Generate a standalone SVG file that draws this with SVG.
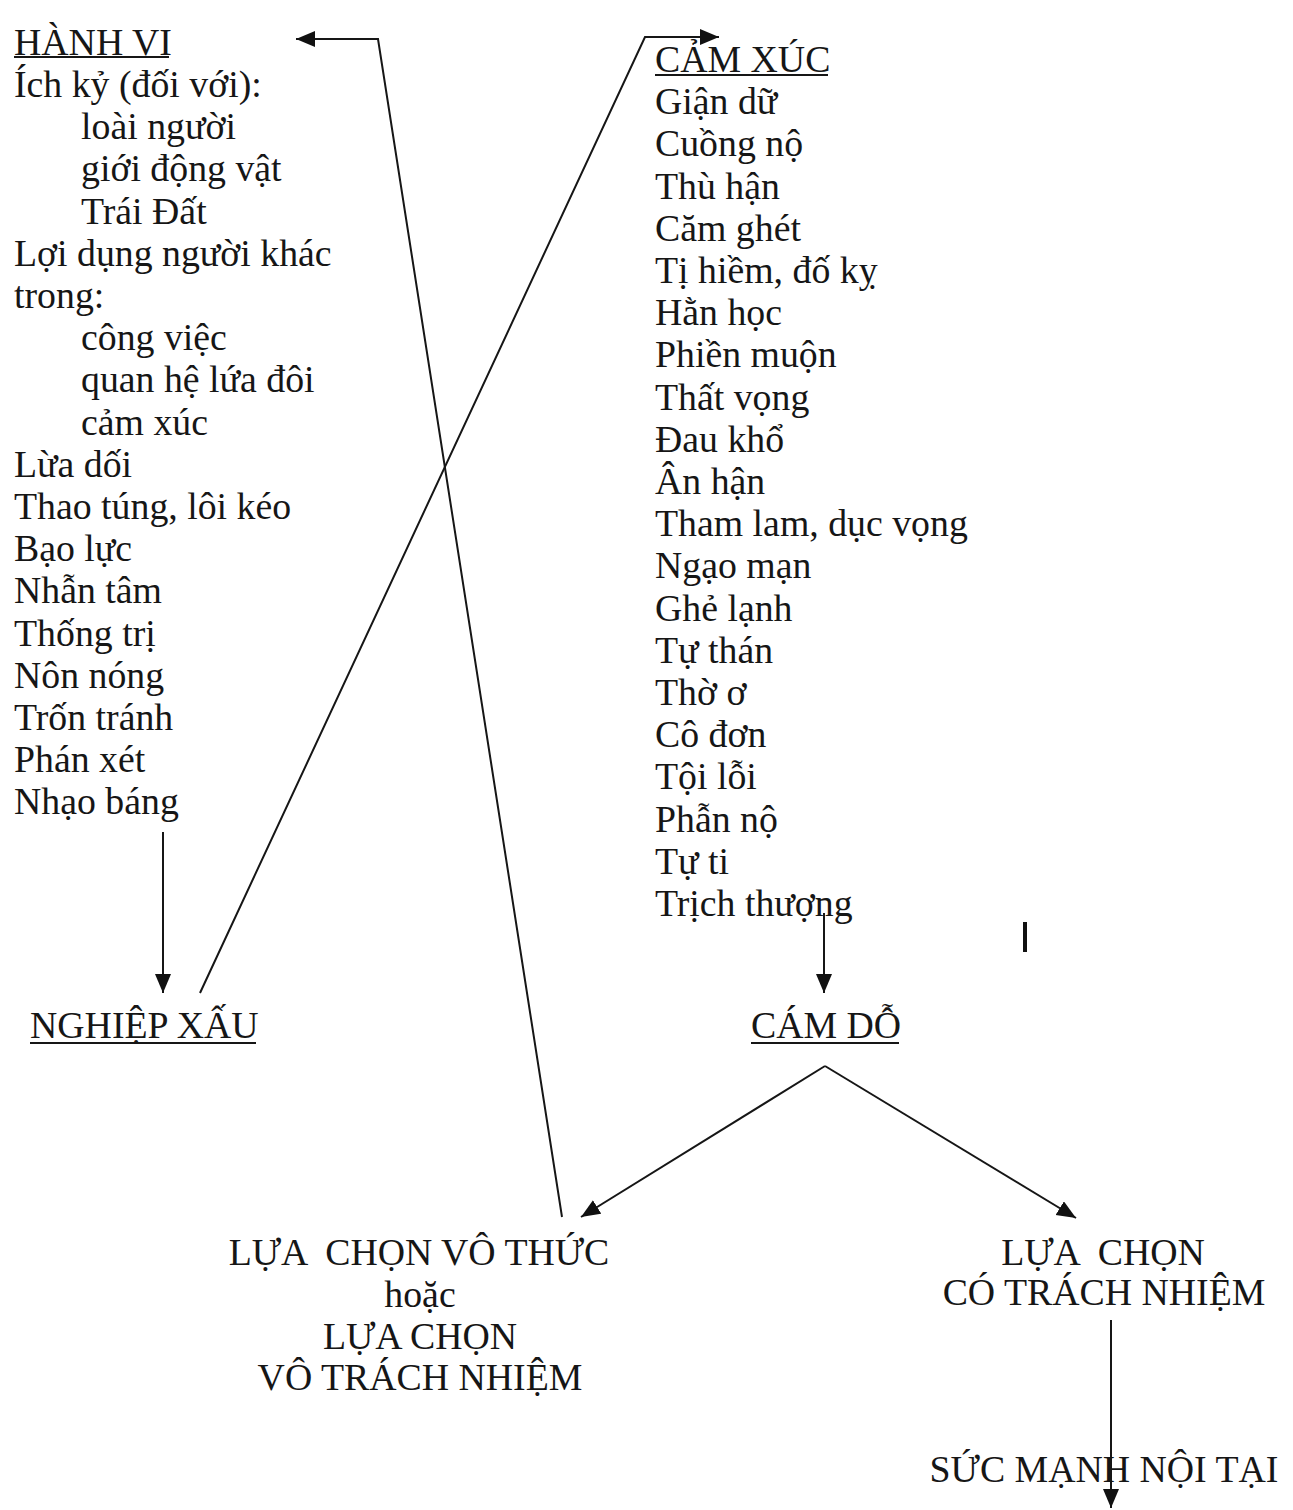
<svg xmlns="http://www.w3.org/2000/svg" width="1293" height="1510" viewBox="0 0 1293 1510">
<style>
  text { font-family: "Liberation Serif", "Times New Roman", serif; font-size: 37.8px; fill: #161616; white-space: pre; }
  .c { text-anchor: middle; }
  .ul { stroke: #161616; stroke-width: 2; }
  .conn { fill: none; stroke: #161616; stroke-width: 2; }
</style>
<defs>
  <marker id="ah" markerUnits="userSpaceOnUse" markerWidth="22" markerHeight="18" refX="19" refY="8" orient="auto">
    <path d="M0,0 L19,8 L0,16 z" fill="#111"/>
  </marker>
</defs>
<rect width="1293" height="1510" fill="#ffffff"/>

<g id="hanh-vi">
  <text x="14" y="55">HÀNH VI</text>
  <line class="ul" x1="14" y1="57" x2="169" y2="57"/>
  <text x="14" y="97">Ích kỷ (đối với):</text>
  <text x="81" y="139">loài người</text>
  <text x="81" y="181">giới động vật</text>
  <text x="81" y="224">Trái Đất</text>
  <text x="14" y="266">Lợi dụng người khác</text>
  <text x="14" y="308">trong:</text>
  <text x="81" y="350">công việc</text>
  <text x="81" y="392">quan hệ lứa đôi</text>
  <text x="81" y="435">cảm xúc</text>
  <text x="14" y="477">Lừa dối</text>
  <text x="14" y="519">Thao túng, lôi kéo</text>
  <text x="14" y="561">Bạo lực</text>
  <text x="14" y="603">Nhẫn tâm</text>
  <text x="14" y="646">Thống trị</text>
  <text x="14" y="688">Nôn nóng</text>
  <text x="14" y="730">Trốn tránh</text>
  <text x="14" y="772">Phán xét</text>
  <text x="14" y="814">Nhạo báng</text>
</g>

<g id="cam-xuc">
  <text x="655" y="72">CẢM XÚC</text>
  <line class="ul" x1="655" y1="75" x2="828" y2="75"/>
  <text x="655" y="114">Giận dữ</text>
  <text x="655" y="156">Cuồng nộ</text>
  <text x="655" y="199">Thù hận</text>
  <text x="655" y="241">Căm ghét</text>
  <text x="655" y="283">Tị hiềm, đố kỵ</text>
  <text x="655" y="325">Hằn học</text>
  <text x="655" y="367">Phiền muộn</text>
  <text x="655" y="410">Thất vọng</text>
  <text x="655" y="452">Đau khổ</text>
  <text x="655" y="494">Ân hận</text>
  <text x="655" y="536">Tham lam, dục vọng</text>
  <text x="655" y="578">Ngạo mạn</text>
  <text x="655" y="621">Ghẻ lạnh</text>
  <text x="655" y="663">Tự thán</text>
  <text x="655" y="705">Thờ ơ</text>
  <text x="655" y="747">Cô đơn</text>
  <text x="655" y="789">Tội lỗi</text>
  <text x="655" y="832">Phẫn nộ</text>
  <text x="655" y="874">Tự ti</text>
  <text x="655" y="916">Trịch thượng</text>
</g>

<g id="mark">
  <line x1="1025" y1="922" x2="1025" y2="952" stroke="#111" stroke-width="4"/>
</g>

<g id="nghiep-xau">
  <text x="30" y="1038">NGHIỆP XẤU</text>
  <line class="ul" x1="30" y1="1043" x2="256" y2="1043"/>
</g>

<g id="cam-do">
  <text x="751" y="1038">CÁM DỖ</text>
  <line class="ul" x1="751" y1="1043" x2="899" y2="1043"/>
</g>

<g id="lua-chon-vo-thuc">
  <text class="c" x="419" y="1265">LỰA  CHỌN VÔ THỨC</text>
  <text class="c" x="420" y="1307">hoặc</text>
  <text class="c" x="420" y="1349">LỰA CHỌN</text>
  <text class="c" x="420" y="1390">VÔ TRÁCH NHIỆM</text>
</g>

<g id="lua-chon-co-trach-nhiem">
  <text class="c" x="1103" y="1265">LỰA  CHỌN</text>
  <text class="c" x="1104" y="1305">CÓ TRÁCH NHIỆM</text>
</g>

<g id="suc-manh-noi-tai">
  <text class="c" x="1104" y="1482">SỨC MẠNH NỘI TẠI</text>
</g>

<g id="connectors">
  <polyline class="conn" points="562,1217 378,39 296,39" marker-end="url(#ah)"/>
  <polyline class="conn" points="200,993 645,37 719,37" marker-end="url(#ah)"/>
  <line class="conn" x1="163" y1="832" x2="163" y2="993" marker-end="url(#ah)"/>
  <line class="conn" x1="824" y1="913" x2="824" y2="993" marker-end="url(#ah)"/>
  <line class="conn" x1="825" y1="1066" x2="581" y2="1217" marker-end="url(#ah)"/>
  <line class="conn" x1="825" y1="1066" x2="1076" y2="1218" marker-end="url(#ah)"/>
  <line class="conn" x1="1111" y1="1320" x2="1111" y2="1508" marker-end="url(#ah)"/>
</g>
</svg>
